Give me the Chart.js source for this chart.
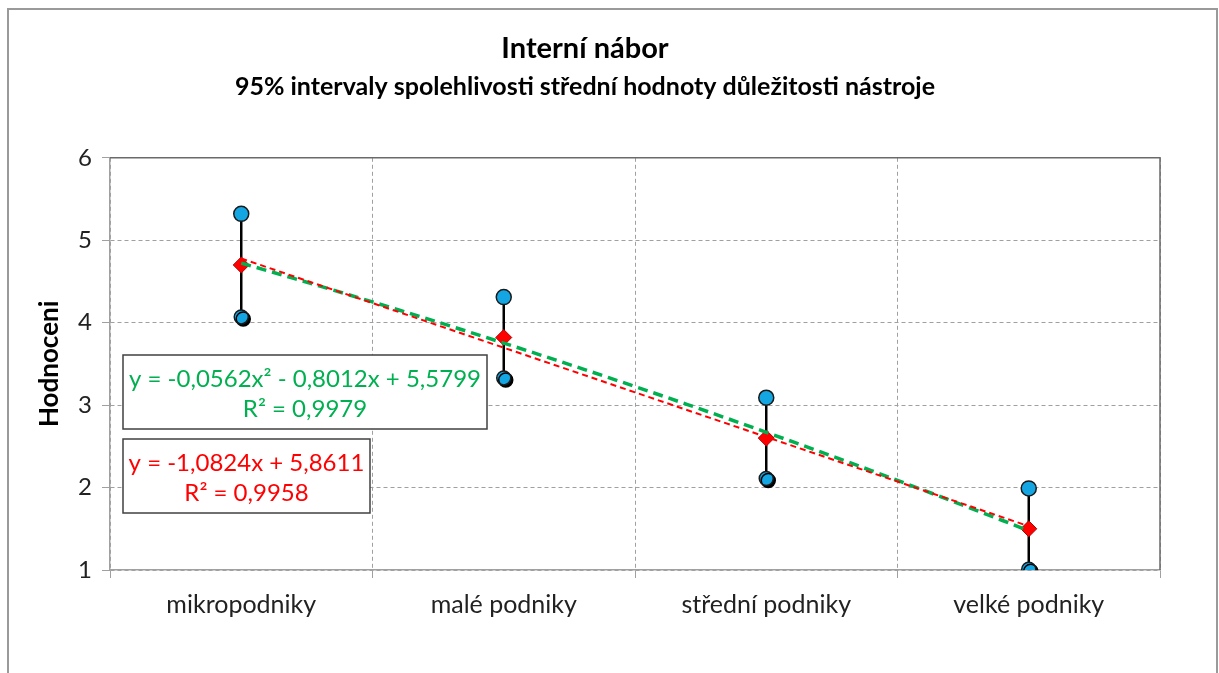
<!DOCTYPE html>
<html lang="cs">
<head>
<meta charset="utf-8">
<title>Interní nábor</title>
<script src="https://cdn.jsdelivr.net/npm/chart.js@4"></script>
<style>
    body { margin: 0; background: #fff; }
    #obal { position: absolute; left: 0; top: 0; width: 1219px; height: 673px; }
</style>
</head>
<body>
<div id="obal"><canvas id="graf"></canvas></div>
<script>
// hodnoty
const kategorie = ["mikropodniky", "malé podniky", "střední podniky", "velké podniky"];
const horniMez = [5.32, 4.31, 3.09, 1.99];
const prumer = [4.70, 3.82, 2.60, 1.50];
const dolniMez = [4.07, 3.33, 2.11, 1.01];
const osaY = [1, 2, 3, 4, 5, 6];

// koeficienty spojnic trendu (z popisku v grafu)
const linTrend = [-1.0824, 5.8611];
const polyTrend = [-0.0562, -0.8012, 5.5799];
const rovnicePoly = ["y = -0,0562x² - 0,8012x + 5,5799", "R² = 0,9979"];
const rovniceLin = ["y = -1,0824x + 5,8611", "R² = 0,9958"];

const PISMO = "Lato, 'Liberation Sans', sans-serif";
const ZELENA = "#00B050";
const CERVENA = "#FF0000";
const MODRA = "#14A6E3";

const body = arr => arr.map((v, i) => ({ x: i + 1, y: v }));

// body spojnic trendu v rozsahu kategorii 1..4
const xTrend = [];
for (let x = 1; x <= 4.0001; x += 0.1) xTrend.push(+x.toFixed(2));
const linBody = [1, 4].map(x => ({ x, y: linTrend[0] * x + linTrend[1] }));
const polyBody = xTrend.map(x => ({ x, y: polyTrend[0] * x * x + polyTrend[1] * x + polyTrend[2] }));

const ramecek = {
    id: "ramecek",
    beforeDraw(chart) {
        const ctx = chart.ctx;
        ctx.save();
        ctx.fillStyle = "#fff";
        ctx.fillRect(0, 0, chart.width, chart.height);
        ctx.strokeStyle = "#9a9a9a";
        ctx.lineWidth = 2;
        ctx.strokeRect(8, 9, 1209, 700);
        ctx.restore();
    },
    afterDraw(chart) {
        const ctx = chart.ctx;
        const a = chart.chartArea;
        ctx.save();
        ctx.strokeStyle = "#6a6a6a";
        ctx.lineWidth = 1.5;
        ctx.beginPath();
        ctx.moveTo(a.left, a.top);
        ctx.lineTo(a.right, a.top);
        ctx.lineTo(a.right, a.bottom);
        ctx.stroke();
        ctx.restore();
    }
};

// svisle useky intervalu spolehlivosti
const intervaly = {
    id: "intervaly",
    beforeDatasetsDraw(chart) {
        const ctx = chart.ctx;
        const sx = chart.scales.x, sy = chart.scales.y;
        ctx.save();
        ctx.strokeStyle = "#000";
        ctx.lineWidth = 2.5;
        kategorie.forEach((k, i) => {
            const x = sx.getPixelForValue(i + 1);
            ctx.beginPath();
            ctx.moveTo(x, sy.getPixelForValue(dolniMez[i]));
            ctx.lineTo(x, sy.getPixelForValue(horniMez[i]));
            ctx.stroke();
        });
        ctx.restore();
    }
};

// stin pod dolnimi body
const stin = {
    id: "stin",
    beforeDatasetDraw(chart, args) {
        if (args.meta.label !== "dolní mez") return;
        const ctx = chart.ctx;
        ctx.save();
        ctx.shadowColor = "#000";
        ctx.shadowOffsetX = 2;
        ctx.shadowOffsetY = 2;
        ctx.shadowBlur = 0;
    },
    afterDatasetDraw(chart, args) {
        if (args.meta.label !== "dolní mez") return;
        chart.ctx.restore();
    }
};

function rovniceBox(ctx, radky, barva, x, y, w, h) {
    ctx.fillStyle = "#fff";
    ctx.fillRect(x, y, w, h);
    ctx.strokeStyle = "#404040";
    ctx.lineWidth = 1.5;
    ctx.strokeRect(x, y, w, h);
    ctx.fillStyle = barva;
    ctx.font = "24px " + PISMO;
    ctx.textAlign = "center";
    ctx.textBaseline = "middle";
    ctx.fillText(radky[0], x + w / 2, y + h * 0.33);
    ctx.fillText(radky[1], x + w / 2, y + h * 0.74);
}

const rovnice = {
    id: "rovnice",
    afterDraw(chart) {
        const ctx = chart.ctx;
        ctx.save();
        rovniceBox(ctx, rovnicePoly, ZELENA, 123, 355, 364, 74);
        rovniceBox(ctx, rovniceLin, CERVENA, 123, 439, 247, 74);
        ctx.restore();
    }
};

const mrizka = {
    color: "#a0a0a0",
    tickBorderDash: [],
    tickLength: 8,
    lineWidth: 1
};

new Chart(document.getElementById("graf"), {
    type: "scatter",
    data: {
        datasets: [
            {
                label: "lineární trend",
                data: linBody,
                showLine: true,
                borderColor: CERVENA,
                borderWidth: 2,
                borderDash: [6, 4],
                pointRadius: 0,
                order: 0
            },
            {
                label: "polynomický trend",
                data: polyBody,
                showLine: true,
                borderColor: ZELENA,
                borderWidth: 3.5,
                borderDash: [10, 6],
                pointRadius: 0,
                order: 1
            },
            {
                label: "průměr",
                data: body(prumer),
                pointStyle: "rectRot",
                pointRadius: 8,
                backgroundColor: CERVENA,
                borderColor: "#B00000",
                borderWidth: 1,
                order: 2
            },
            {
                label: "horní mez",
                data: body(horniMez),
                pointStyle: "circle",
                pointRadius: 7.5,
                backgroundColor: MODRA,
                borderColor: "#1a1a1a",
                borderWidth: 1.5,
                order: 3
            },
            {
                label: "dolní mez",
                data: body(dolniMez),
                pointStyle: "circle",
                pointRadius: 7,
                backgroundColor: MODRA,
                borderColor: "#1a1a1a",
                borderWidth: 1.5,
                order: 4
            }
        ]
    },
    options: {
        responsive: true,
        maintainAspectRatio: false,
        animation: false,
        layout: { padding: { left: 10, right: 59, top: 0, bottom: 0 } },
        plugins: {
            legend: { display: false },
            tooltip: { enabled: false },
            title: {
                display: true,
                text: "Interní nábor",
                color: "#000",
                font: { family: PISMO, size: 29, weight: "bold" },
                padding: { top: 31, bottom: 6 }
            },
            subtitle: {
                display: true,
                text: "95% intervaly spolehlivosti střední hodnoty důležitosti nástroje",
                color: "#000",
                font: { family: PISMO, size: 25, weight: "bold" },
                padding: { top: 0, bottom: 56 }
            }
        },
        scales: {
            x: {
                type: "linear",
                min: 0.5,
                max: 4.5,
                afterBuildTicks: s => {
                    s.ticks = [0.5, 1, 1.5, 2, 2.5, 3, 3.5, 4, 4.5].map(v => ({ value: v }));
                },
                afterFit: s => { s.height = 103; },
                ticks: {
                    autoSkip: false,
                    maxRotation: 0,
                    padding: 12,
                    color: "#222",
                    font: { family: PISMO, size: 25 },
                    callback: v => Number.isInteger(v) ? kategorie[v - 1] : ""
                },
                grid: {
                    ...mrizka,
                    color: c => (c.tick && Number.isInteger(c.tick.value)) ? "rgba(0,0,0,0)" : "#a0a0a0"
                },
                border: { color: "#a0a0a0", width: 1.5, dash: [4, 3] }
            },
            y: {
                min: 1,
                max: 6,
                afterBuildTicks: s => { s.ticks = osaY.map(v => ({ value: v })); },
                afterFit: s => { s.width = 100; },
                title: {
                    display: true,
                    text: "Hodnoceni",
                    color: "#000",
                    font: { family: PISMO, size: 26, weight: "bold" },
                    padding: { top: 24, bottom: 0 }
                },
                ticks: {
                    padding: 10,
                    color: "#222",
                    font: { family: PISMO, size: 24 }
                },
                grid: mrizka,
                border: { color: "#a0a0a0", width: 1.5, dash: [4, 3] }
            }
        }
    },
    plugins: [ramecek, intervaly, stin, rovnice]
});
</script>
</body>
</html>
